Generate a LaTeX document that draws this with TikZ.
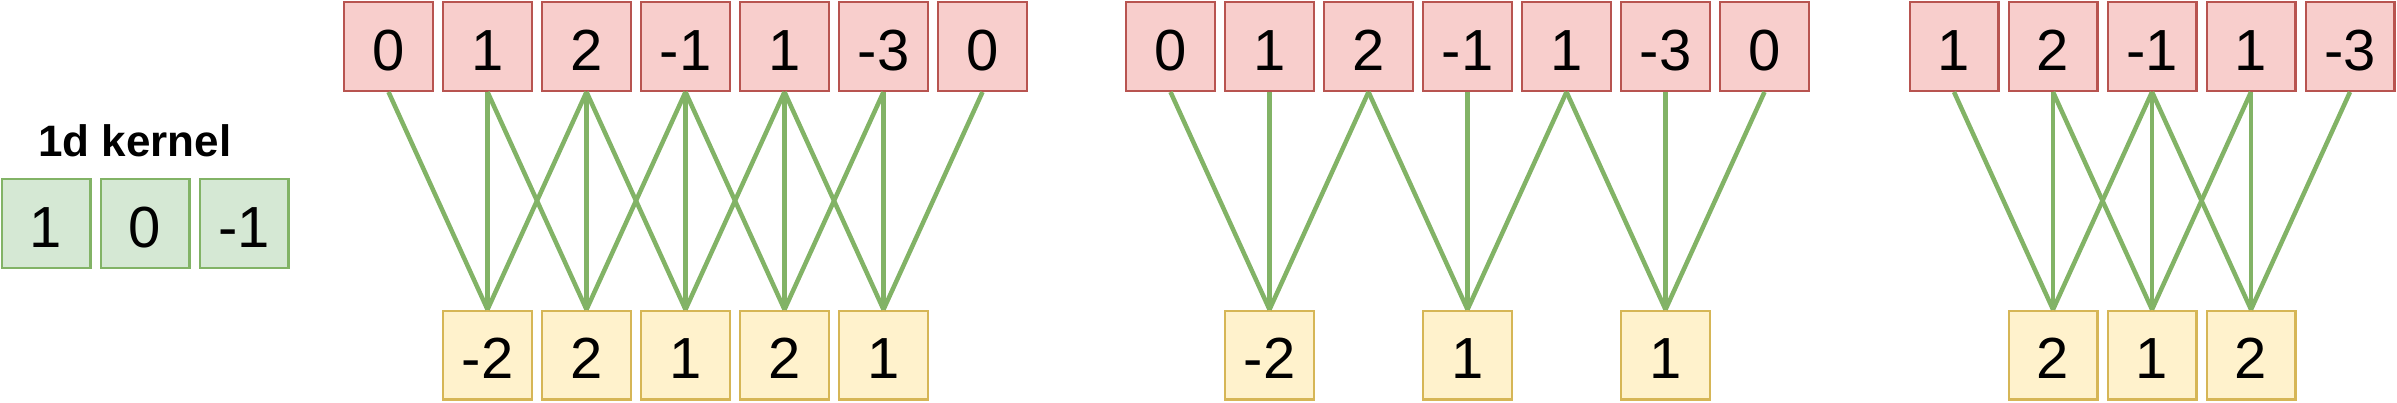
\documentclass[tikz,border=0pt]{standalone}
\usepackage{fontspec}
\setmainfont{Liberation Sans}
\definecolor{redfill}{HTML}{F8CECC}
\definecolor{redline}{HTML}{B85450}
\definecolor{greenfill}{HTML}{D5E8D4}
\definecolor{greenline}{HTML}{82B366}
\definecolor{yellowfill}{HTML}{FFF2CC}
\definecolor{yellowline}{HTML}{D6B656}
\tikzset{
  cell/.style={rectangle, line width=2.4pt, minimum width=88.6pt, minimum height=88.6pt,
    inner sep=0pt, font=\fontsize{58}{60}\selectfont, text height=47pt, text depth=0pt},
  inbox/.style={cell, draw=redline, fill=redfill},
  outbox/.style={cell, draw=yellowline, fill=yellowfill},
  kbox/.style={cell, draw=greenline, fill=greenfill},
  wire/.style={draw=greenline, line width=4.5pt},
}
\begin{document}
\begin{tikzpicture}[x=1pt, y=-1pt]
\useasboundingbox (0,0) rectangle (2397,402);
% kernel
\node[font=\bfseries\fontsize{44}{46}\selectfont, anchor=base] (title) at (135,156) {1d kernel};
\foreach \v [count=\i from 0] in {1,0,-1} {
  \node[kbox] (k\i) at (46+99*\i,223.5) {\v};
}
% panel 1
\foreach \v [count=\i from 0] in {0,1,2,-1,1,-3,0} {
  \node[inbox] (a\i) at (388.5+99*\i,46.5) {\v};
}
\foreach \v [count=\i from 1] in {-2,2,1,2,1} {
  \node[outbox] (p\i) at (388.5+99*\i,355) {\v};
}
\foreach \i in {1,...,5} {
  \pgfmathtruncatemacro{\l}{\i-1}
  \pgfmathtruncatemacro{\r}{\i+1}
  \draw[wire] (a\l.south) -- (p\i.north);
  \draw[wire] (a\i.south) -- (p\i.north);
  \draw[wire] (a\r.south) -- (p\i.north);
}
% panel 2
\foreach \v [count=\i from 0] in {0,1,2,-1,1,-3,0} {
  \node[inbox] (b\i) at (1170.5+99*\i,46.5) {\v};
}
\node[outbox] (q1) at (1170.5+99,355) {-2};
\node[outbox] (q3) at (1170.5+297,355) {1};
\node[outbox] (q5) at (1170.5+495,355) {1};
\foreach \i in {1,3,5} {
  \pgfmathtruncatemacro{\l}{\i-1}
  \pgfmathtruncatemacro{\r}{\i+1}
  \draw[wire] (b\l.south) -- (q\i.north);
  \draw[wire] (b\i.south) -- (q\i.north);
  \draw[wire] (b\r.south) -- (q\i.north);
}
% panel 3
\foreach \v [count=\i from 0] in {1,2,-1,1,-3} {
  \node[inbox] (c\i) at (1954+99*\i,46.5) {\v};
}
\foreach \v [count=\i from 1] in {2,1,2} {
  \node[outbox] (s\i) at (1954+99*\i,355) {\v};
}
\foreach \i in {1,2,3} {
  \pgfmathtruncatemacro{\l}{\i-1}
  \pgfmathtruncatemacro{\r}{\i+1}
  \draw[wire] (c\l.south) -- (s\i.north);
  \draw[wire] (c\i.south) -- (s\i.north);
  \draw[wire] (c\r.south) -- (s\i.north);
}
\end{tikzpicture}
\end{document}
